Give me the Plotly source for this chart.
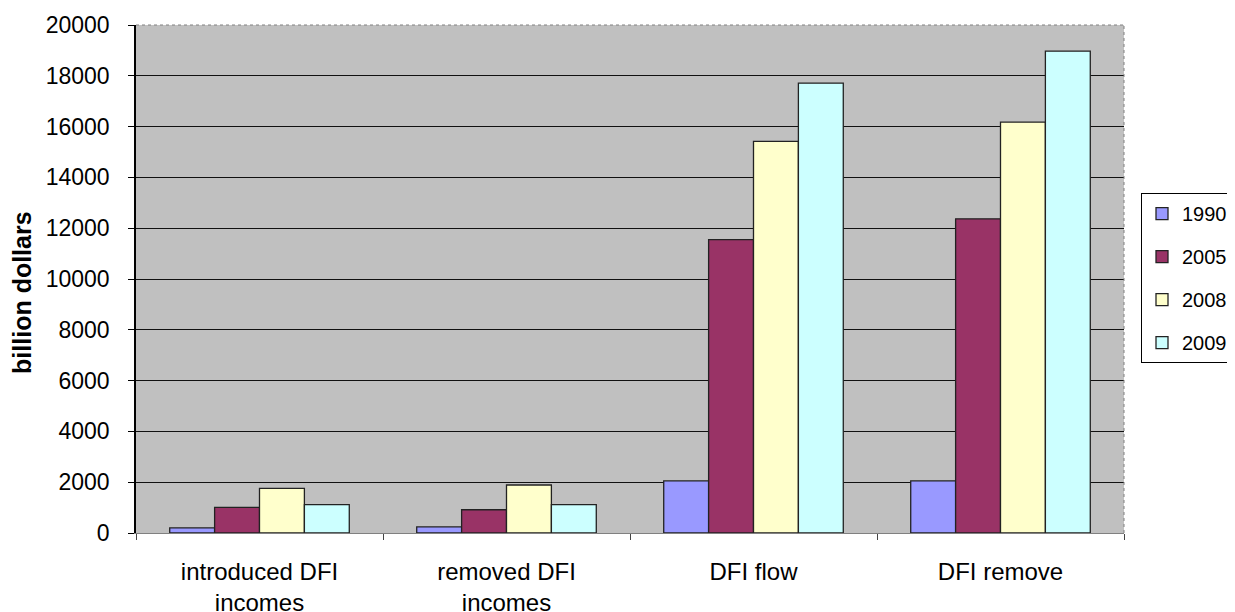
import plotly.graph_objects as go

categories = ["introduced DFI<br>incomes", "removed DFI<br>incomes", "DFI flow", "DFI remove"]
series_names = ["1990", "2005", "2008", "2009"]
values_1990 = [200, 240, 2050, 2050]
values_2005 = [1010, 915, 11550, 12370]
values_2008 = [1760, 1890, 15420, 16180]
values_2009 = [1120, 1120, 17710, 18970]
y_ticks = [0, 2000, 4000, 6000, 8000, 10000, 12000, 14000, 16000, 18000, 20000]

colors = ["#9999FF", "#993366", "#FFFFCC", "#CCFFFF"]
all_values = [values_1990, values_2005, values_2008, values_2009]

FONT = "Liberation Sans, Arial, sans-serif"

fig = go.Figure()
for name, vals, col in zip(series_names, all_values, colors):
    fig.add_trace(go.Bar(
        x=categories, y=vals, name=name, legendgroup=name,
        marker=dict(color=col, line=dict(color="#222222", width=1.3)),
    ))

# page body has an 8px margin: figure occupies (8,8)-(1235,612)
fig.update_layout(
    width=1227, height=604,
    margin=dict(l=128, r=111, t=17, b=79, autoexpand=False),
    paper_bgcolor="white",
    plot_bgcolor="#C0C0C0",
    barmode="group",
    bargap=0.273,
    bargroupgap=0,
    font=dict(family=FONT, color="black"),
    legend=dict(
        x=(1141 - 136) / 988, y=0.669, xanchor="left", yanchor="top",
        bgcolor="white", bordercolor="black", borderwidth=1,
        font=dict(size=20, family=FONT),
        tracegroupgap=14,
        traceorder="grouped",
        itemwidth=30,
    ),
    showlegend=True,
)

fig.update_xaxes(
    type="category",
    tickson="boundaries",
    ticks="outside", ticklen=6, tickcolor="#444444",
    showline=True, linecolor="#808080", linewidth=1,
    showgrid=False,
    tickfont=dict(size=24, family=FONT),
    ticklabelstandoff=17,
)

fig.update_yaxes(
    range=[0, 20000],
    tickvals=y_ticks,
    ticktext=[str(v) for v in y_ticks],
    ticks="outside", ticklen=6, tickcolor="black",
    showline=True, linecolor="black", linewidth=1.5,
    showgrid=True, gridcolor="#111111", gridwidth=1.3,
    zeroline=False,
    tickfont=dict(size=23, family=FONT),
    ticklabelstandoff=14,
)

fig.add_shape(type="line", xref="paper", yref="paper", x0=0, x1=1, y0=1, y1=1,
              line=dict(color="#808080", width=1, dash="dot"))
fig.add_shape(type="line", xref="paper", yref="paper", x0=1, x1=1, y0=0, y1=1,
              line=dict(color="#808080", width=1, dash="dot"))

fig.add_annotation(
    text="<b>billion dollars</b>", xref="paper", yref="paper",
    x=(22.7 - 136) / 988, y=0.474, xanchor="center", yanchor="middle",
    textangle=-90, showarrow=False,
    font=dict(size=25, family=FONT, color="black"),
)

fig.write_html("out.html")
